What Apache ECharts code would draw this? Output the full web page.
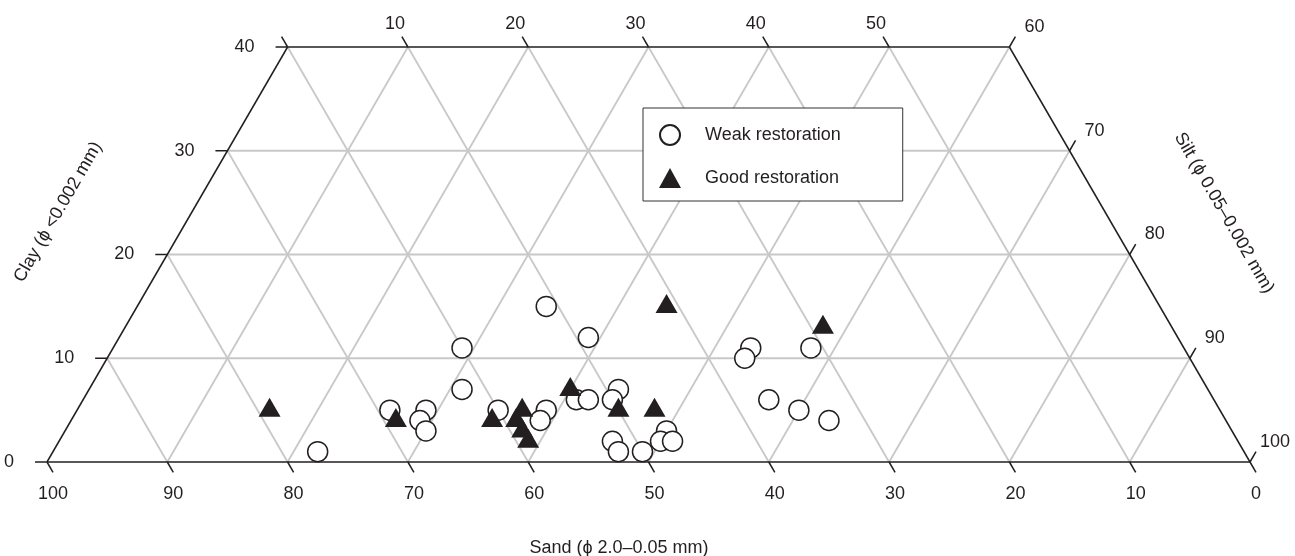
<!DOCTYPE html>
<html>
<head>
<meta charset="utf-8">
<script src="https://cdn.jsdelivr.net/npm/echarts@6/dist/echarts.min.js"></script>
<style>
html,body{margin:0;padding:0;background:#fff;}
#chart{width:1295px;height:556px;}
</style>
</head>
<body>
<div id="chart"></div>
<script>
// ---- data (percent) ----
const weakSand = [77,69,66,67,67,60,62,60,51,49,56,57,53,52,49,50,52,52,50,47,48,47,36,37,31,37,35,33];
const weakClay = [1,5,5,4,3,11,7,5,15,12,5,4,6,6,7,6,2,1,1,3,2,2,11,10,11,6,5,4];
const goodSand = [79,69,61,58,59,59,59,53,50,47,41,29];
const goodClay = [5,4,4,5,4,3,2,7,5,5,15,13];

// ---- tick labels ----
const sandTicks = [100,90,80,70,60,50,40,30,20,10,0];
const clayTicks = [0,10,20,30,40];
const siltTopTicks = [0,10,20,30,40,50];
const siltTopLabels = ['', '10','20','30','40','50'];
const siltRightTicks = [60,70,80,90,100];
const gridSteps = [10,20,30,40,50,60,70,80,90];
const clayGrid = [10,20,30];
const CLAY_MAX = 40;

// ternary (sand, clay) -> cartesian (x, y)
function tern(sand, clay){ return [100 - sand - clay/2, clay]; }

const FONT = '18px "Liberation Sans", Arial, sans-serif';
const INK = '#231f20';

// grid segments
const gridSegs = [];
clayGrid.forEach(c => { const a = tern(100-c, c), b = tern(0, c); gridSegs.push([a[0],a[1],b[0],b[1]]); });
gridSteps.forEach(s => { const cm = Math.min(CLAY_MAX, 100-s); const a = tern(s,0), b = tern(s,cm); gridSegs.push([a[0],a[1],b[0],b[1]]); });
gridSteps.forEach(t => { const cm = Math.min(CLAY_MAX, 100-t); const a = tern(100-t,0), b = tern(100-t-cm,cm); gridSegs.push([a[0],a[1],b[0],b[1]]); });

// frame
const frameCorners = [tern(100,0), tern(100-CLAY_MAX, CLAY_MAX), tern(0, CLAY_MAX), tern(0,0)];
const frameSegs = [];
for (let i=0;i<4;i++){ const a=frameCorners[i], b=frameCorners[(i+1)%4]; frameSegs.push([a[0],a[1],b[0],b[1]]); }

// ticks
const tickSegs = [];
sandTicks.forEach(s => { const a=tern(s,0), b=tern(s,-1); tickSegs.push([a[0],a[1],b[0],b[1]]); });
clayTicks.forEach(c => { const a=tern(100-c,c); tickSegs.push([a[0],a[1],a[0]-1,a[1]]); });
siltTopTicks.forEach(t => { const a=tern(60-t,CLAY_MAX), b=tern(60-t,CLAY_MAX+1); tickSegs.push([a[0],a[1],b[0],b[1]]); });
siltRightTicks.forEach(t => { const a=tern(0,100-t), b=tern(-1,101-t); tickSegs.push([a[0],a[1],b[0],b[1]]); });

function segSeries(segs, stroke, width, z){
  return {
    type:'custom', coordinateSystem:'cartesian2d', silent:true, clip:false, z:z,
    data: segs, encode:{x:[0,2], y:[1,3]},
    renderItem: function(p, api){
      const a = api.coord([api.value(0), api.value(1)]);
      const b = api.coord([api.value(2), api.value(3)]);
      return {type:'line', shape:{x1:a[0],y1:a[1],x2:b[0],y2:b[1]}, style:{stroke:stroke, lineWidth:width}};
    }
  };
}

function labelSeries(points, texts, dx, dy, align){
  return {
    type:'custom', coordinateSystem:'cartesian2d', silent:true, clip:false, z:5,
    data: points, encode:{x:0, y:1},
    renderItem: function(p, api){
      const a = api.coord([api.value(0), api.value(1)]);
      return {type:'text', x:a[0]+dx, y:a[1]+dy,
        style:{text:texts[p.dataIndex], font:FONT, fill:INK, align:align, verticalAlign:'middle'}};
    }
  };
}

const sandLabelPts = sandTicks.map(s => tern(s,0));
const clayLabelPts = clayTicks.map(c => tern(100-c,c));
const siltTopPts = siltTopTicks.map(t => tern(60-t,CLAY_MAX));
const siltRightPts = siltRightTicks.map(t => tern(0,100-t));

const weakData = weakSand.map((s,i) => tern(s, weakClay[i]));
const goodData = goodSand.map((s,i) => tern(s, goodClay[i]));

const chart = echarts.init(document.getElementById('chart'), null, {renderer:'canvas'});
chart.setOption({
  animation:false,
  backgroundColor:'#fff',
  grid:{left:47, right:45, top:47, bottom:94},
  xAxis:{type:'value', min:0, max:100, show:false},
  yAxis:{type:'value', min:0, max:40, show:false},
  legend:{
    data:['Weak restoration','Good restoration'],
    orient:'vertical', left:643, top:108,
    padding:[16,62,13,16], itemGap:22,
    itemWidth:22, itemHeight:20,
    borderColor:'#333', borderWidth:1, backgroundColor:'#fff',
    textStyle:{fontFamily:'"Liberation Sans", Arial, sans-serif', fontSize:18, color:INK, padding:[0,0,0,19]},
    selectedMode:false
  },
  graphic:[
    {type:'text', x:58, y:212, rotation:Math.PI/3, style:{text:'Clay (\u03d5 <0.002 mm)', font:FONT, fill:INK, align:'center', verticalAlign:'middle'}},
    {type:'text', x:1224, y:213, rotation:-Math.PI/3, style:{text:'Silt (\u03d5 0.05\u20130.002 mm)', font:FONT, fill:INK, align:'center', verticalAlign:'middle'}},
    {type:'text', x:619, y:548, style:{text:'Sand (\u03d5 2.0\u20130.05 mm)', font:FONT, fill:INK, align:'center', verticalAlign:'middle'}}
  ],
  series:[
    segSeries(gridSegs, '#c8c8c8', 1.8, 1),
    segSeries(frameSegs, INK, 1.5, 2),
    segSeries(tickSegs, INK, 1.5, 2),
    labelSeries(sandLabelPts, sandTicks.map(String), 6, 32, 'center'),
    labelSeries(clayLabelPts, clayTicks.map(String), -33, 0, 'right'),
    labelSeries(siltTopPts, siltTopLabels, -13, -23, 'center'),
    labelSeries(siltRightPts, siltRightTicks.map(String), 25, -20, 'center'),
    {
      name:'Weak restoration', type:'scatter', clip:false, z:10,
      symbol:'circle', symbolSize:20,
      itemStyle:{color:'#fff', borderColor:INK, borderWidth:1.5, opacity:1},
      data: weakData
    },
    {
      name:'Good restoration', type:'scatter', clip:false, z:11,
      symbol:'triangle', symbolSize:[22,19], symbolOffset:[0,-3],
      itemStyle:{color:INK, borderWidth:0, opacity:1},
      data: goodData
    }
  ]
});
</script>
</body>
</html>
